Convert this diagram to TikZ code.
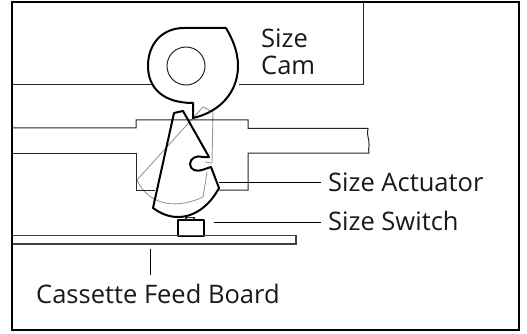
\documentclass[tikz,border=0pt]{standalone}
\usepackage{fontspec}
\setmainfont{Open Sans}
\tikzset{
 frame/.style={line width=2pt,black},
 thin line/.style={line width=1pt,black!85},
 heavy/.style={line width=2pt,black,line join=round},
 ghost/.style={line width=0.9pt,black!40,line join=round},
 lab/.style={font=\fontsize{25.5}{30}\selectfont,inner sep=0pt,anchor=base west,text=black!90},
}
\begin{document}
\begin{tikzpicture}[x=1pt,y=-1pt]
\useasboundingbox (0,0) rectangle (527,334);
\fill[white] (0,0) rectangle (527,334);
% ghost actuator
\draw[ghost] (137,180) -- (203,107) -- (213,112) -- (212,163) -- (205,162) (207,172) -- (203,197) .. controls (180,208) and (150,208) .. (137,180);
% plates
\draw[thin line] (12,85) -- (153,85) (239,85) -- (363.5,85) -- (363.5,2);
\draw[thin line] (12,128) -- (136,128) -- (136,120) -- (248,120) -- (248,128.5) -- (368,128.5)
  .. controls (366,135) and (370,140) .. (369,146) .. controls (369,149) and (368,151) .. (369,153)
  -- (248,153) -- (248,190) -- (219,190);
\draw[thin line] (12,153) -- (136,153) -- (136,190) -- (155,190);
% cam
\draw[thin line] (186,66) circle (19);
\draw[heavy] (226,28) -- (184,28) .. controls (162,28) and (148,44) .. (148,66)
  .. controls (148,88) and (163,103) .. (193,103) -- (193,118)
  .. controls (220,112) and (238,92) .. (238,66) .. controls (238,52) and (233,40) .. (226,28);
% actuator
\draw[heavy] (174,113) -- (183,111) -- (209,157) -- (203,157)
  .. controls (197,155) and (190,158) .. (190,164) .. controls (190,170) and (197,172) .. (202,170)
  -- (211,167) -- (219,188) .. controls (210,205) and (195,217) .. (178,217)
  .. controls (168,217) and (160,213) .. (153,208) -- cycle;
% switch
\draw[heavy] (178,220) rectangle (204,236);
\draw[line width=1.5pt,black!85] (186,220) -- (186,217.5) -- (194,217.5) -- (194,220);
% board
\draw[line width=1.2pt,black!75] (12,235.5) -- (296,235.5) -- (296,244) -- (12,244);
% leaders
\coordinate (actL) at (321,182);
\coordinate (swL) at (321,222);
\coordinate (bdA) at (150,249);
\coordinate (bdB) at (150,275);
\draw[thin line,black] (219,182) -- (actL);
\draw[thin line,black] (214,222) -- (swL);
\draw[thin line,black] (bdA) -- (bdB);
% frame
\draw[frame] (12,2) rectangle (519,330);
% labels
\node[lab] (cam1) at (261,48) {Size};
\node[lab] (cam2) at (261,75) {Cam};
\node[lab] (act) at (328,191) {Size Actuator};
\node[lab] (sw) at (328,230) {Size Switch};
\node[lab] (board) at (36,303) {Cassette Feed Board};
\end{tikzpicture}
\end{document}
